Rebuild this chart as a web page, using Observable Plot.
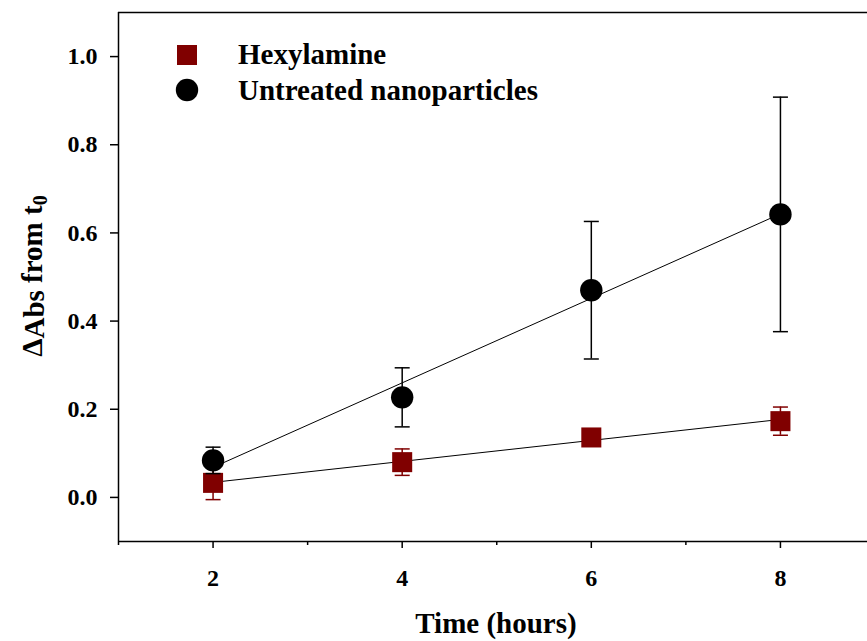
<!DOCTYPE html>
<html>
<head>
<meta charset="utf-8">
<script src="https://cdn.jsdelivr.net/npm/d3@7"></script>
<script src="https://cdn.jsdelivr.net/npm/@observablehq/plot@0.6"></script>
<style>
  html, body { margin: 0; padding: 0; background: #fff; overflow: hidden; }
</style>
</head>
<body>
<div id="chart"></div>
<script>
// Absorbance change over time, mean ± error, with least-squares fit lines
const hours = [2, 4, 6, 8];
const hexylamineMean = [0.033, 0.080, 0.136, 0.173];
const hexylamineErr = [0.038, 0.030, 0.015, 0.032];
const untreatedMean = [0.084, 0.227, 0.470, 0.642];
const untreatedErr = [0.030, 0.067, 0.156, 0.266];

const yTicks = [0.0, 0.2, 0.4, 0.6, 0.8, 1.0];
const xMajorTicks = [2, 4, 6, 8];
const xMinorTicks = [1, 3, 5, 7, 9];
const seriesNames = ["Hexylamine", "Untreated nanoparticles"];
const seriesColors = ["#800000", "#000000"];

const FONT = "'Liberation Serif', 'Times New Roman', Times, serif";
const TITLE_SIZE = 29;

const toRows = (mean, err) =>
  hours.map((h, i) => ({hours: h, y: mean[i], lo: mean[i] - err[i], hi: mean[i] + err[i]}));
const hex = toRows(hexylamineMean, hexylamineErr);
const unt = toRows(untreatedMean, untreatedErr);

// horizontal cap used at the ends of each error bar
const cap = {
  draw(ctx, size) {
    const r = Math.sqrt(size / Math.PI);
    ctx.moveTo(-r, 0);
    ctx.lineTo(r, 0);
  }
};

function errorBars(rows, color) {
  return [
    Plot.ruleX(rows, {x: "hours", y1: "lo", y2: "hi", stroke: color, strokeWidth: 1.5}),
    Plot.dot(rows, {x: "hours", y: "lo", symbol: cap, r: 7.5, stroke: color, strokeWidth: 1.5, fill: "none"}),
    Plot.dot(rows, {x: "hours", y: "hi", symbol: cap, r: 7.5, stroke: color, strokeWidth: 1.5, fill: "none"})
  ];
}

const chart = Plot.plot({
  width: 867,
  height: 641,
  marginTop: 12,
  marginBottom: 100,
  marginLeft: 118,
  marginRight: 0,
  style: {fontFamily: FONT, fontSize: "24px", fontWeight: "bold", background: "white", color: "black"},
  x: {domain: [1, 9], range: [118, 874.5]},
  y: {domain: [-0.1, 1.1]},
  marks: [
    // axes frame: left, bottom, top
    Plot.ruleX([1], {stroke: "black", strokeWidth: 1.5}),
    Plot.ruleY([-0.1], {stroke: "black", strokeWidth: 1.5}),
    Plot.ruleY([1.1], {stroke: "black", strokeWidth: 1.5}),
    Plot.axisY(yTicks, {tickSize: 8, tickPadding: 13, tickFormat: d3.format(".1f"), label: null, strokeWidth: 1.5, fontSize: 24, fontWeight: "bold"}),
    Plot.axisX(xMajorTicks, {tickSize: 7, tickPadding: 20, tickFormat: d => String(d), label: null, strokeWidth: 1.5, fontSize: 24, fontWeight: "bold"}),
    Plot.axisX(xMinorTicks, {tickSize: 4, tickFormat: () => "", label: null, strokeWidth: 1.5}),
    // fitted lines
    Plot.linearRegressionY(hex, {x: "hours", y: "y", stroke: "black", strokeWidth: 1, ci: 0}),
    Plot.linearRegressionY(unt, {x: "hours", y: "y", stroke: "black", strokeWidth: 1, ci: 0}),
    // Hexylamine
    ...errorBars(hex, seriesColors[0]),
    Plot.dot(hex, {x: "hours", y: "y", symbol: "square", r: 11.3, fill: seriesColors[0], stroke: "none"}),
    // Untreated nanoparticles
    ...errorBars(unt, seriesColors[1]),
    Plot.dot(unt, {x: "hours", y: "y", symbol: "circle", r: 11.2, fill: seriesColors[1], stroke: "none"})
  ]
});

document.getElementById("chart").appendChild(chart);

const svg = d3.select(chart);

// legend inside the plot area
const legend = svg.append("g")
  .attr("font-family", FONT).attr("font-weight", "bold").attr("font-size", TITLE_SIZE)
  .attr("text-anchor", "start");
legend.append("rect").attr("x", 177).attr("y", 45).attr("width", 20).attr("height", 20).attr("fill", seriesColors[0]);
legend.append("circle").attr("cx", 187).attr("cy", 90).attr("r", 11.2).attr("fill", seriesColors[1]);
legend.append("text").attr("x", 238).attr("y", 64).attr("fill", "black").text(seriesNames[0]);
legend.append("text").attr("x", 238).attr("y", 100).attr("fill", "black").text(seriesNames[1]);

// x axis title
svg.append("text")
  .attr("x", 496).attr("y", 633)
  .attr("text-anchor", "middle")
  .attr("font-family", FONT).attr("font-weight", "bold").attr("font-size", TITLE_SIZE)
  .attr("fill", "black")
  .text("Time (hours)");

// y axis title with subscripts
const yTitle = svg.append("text")
  .attr("transform", "translate(42,276) rotate(-90)")
  .attr("text-anchor", "middle")
  .attr("font-family", FONT).attr("font-weight", "bold").attr("font-size", TITLE_SIZE)
  .attr("fill", "black");
yTitle.append("tspan").text("Δ");
yTitle.append("tspan").attr("dy", 2).text("Abs");
yTitle.append("tspan").attr("dy", -2).text(" from t");
yTitle.append("tspan").attr("dy", 5).attr("font-size", 20).text("0");
</script>
</body>
</html>
